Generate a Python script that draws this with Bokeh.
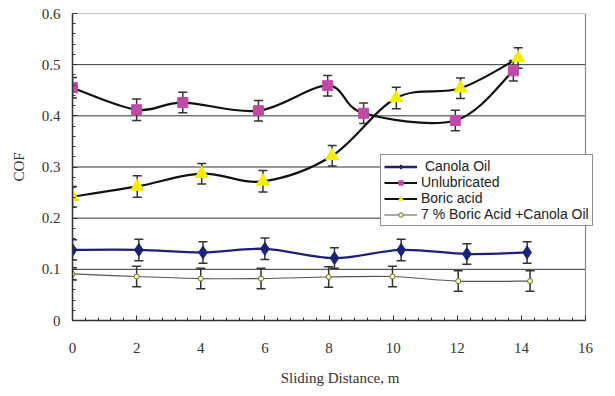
from bokeh.plotting import figure
from bokeh.models import (ColumnDataSource, Whisker, TeeHead, FixedTicker, Legend, LegendItem,
                          Range1d)
from bokeh.embed import file_html
from bokeh.resources import INLINE

# ---------------- data ----------------
canola_x = [0, 2.07, 4.07, 6.0, 8.17, 10.25, 12.3, 14.18]
canola_y = [0.138, 0.138, 0.133, 0.140, 0.122, 0.138, 0.130, 0.133]
canola_err = [0.02, 0.021, 0.021, 0.021, 0.02, 0.021, 0.02, 0.021]

unlub_x = [0, 2.0, 3.44, 5.8, 7.96, 9.08, 11.94, 13.75]
unlub_y = [0.455, 0.412, 0.426, 0.410, 0.459, 0.405, 0.391, 0.488]
unlub_err = [0.02, 0.021, 0.02, 0.02, 0.02, 0.02, 0.02, 0.02]

boric_x = [0, 2.02, 4.03, 5.94, 8.1, 10.1, 12.1, 13.9]
boric_y = [0.242, 0.262, 0.287, 0.272, 0.322, 0.435, 0.454, 0.513]
boric_err = [0.02, 0.021, 0.02, 0.021, 0.02, 0.021, 0.02, 0.02]

mix_x = [0, 2.0, 4.0, 5.88, 7.99, 9.98, 12.03, 14.27]
mix_y = [0.091, 0.086, 0.082, 0.082, 0.085, 0.086, 0.077, 0.077]
mix_err = [0.012, 0.02, 0.02, 0.02, 0.02, 0.02, 0.02, 0.02]

x_ticks = [0, 2, 4, 6, 8, 10, 12, 14, 16]
y_ticks = [0, 0.1, 0.2, 0.3, 0.4, 0.5, 0.6]
y_labels = ["0", "0.1", "0.2", "0.3", "0.4", "0.5", "0.6"]
names = ["Canola Oil", "Unlubricated", "Boric acid", "7 % Boric Acid +Canola Oil"]

SERIF = "Liberation Serif"
SANS = "Liberation Sans"

X_MAX = 16
# the frame runs past x=16 so that the legend can overhang the plot box, as in the original
X_VIEW = X_MAX * 535 / 513

p = figure(width=607, height=388, output_backend="svg", toolbar_location=None,
           x_range=Range1d(0, X_VIEW), y_range=Range1d(0, 0.6),
           min_border_left=72, min_border_right=0, min_border_top=13, min_border_bottom=65)
p.background_fill_color = "white"
p.border_fill_color = "white"
p.outline_line_color = None
p.xgrid.visible = False
p.ygrid.visible = False

# horizontal grid lines and plot box (ending at x = 16)
grid_y = y_ticks[1:-1]
p.segment(x0=[0] * len(grid_y), x1=[X_MAX] * len(grid_y), y0=grid_y, y1=grid_y,
          line_color="#333333", line_width=1)
p.segment(x0=[0, X_MAX], x1=[X_MAX, X_MAX], y0=[y_ticks[-1], 0], y1=[y_ticks[-1], y_ticks[-1]],
          line_color="#8a8a8a", line_width=1.2)

# axes
p.xaxis.ticker = FixedTicker(ticks=x_ticks,
                             minor_ticks=[i * 0.4 for i in range(41)])
p.xaxis.bounds = (0, X_MAX)
p.yaxis.ticker = FixedTicker(ticks=y_ticks,
                             minor_ticks=[i * 0.02 for i in range(31)])
p.yaxis.major_label_overrides = {t: l for t, l in zip(y_ticks, y_labels)}
for ax in (p.xaxis, p.yaxis):
    ax.axis_line_color = "#333333"
    ax.axis_line_width = 1.5
    ax.major_tick_line_color = "#333333"
    ax.minor_tick_line_color = "#333333"
    ax.major_tick_in = 5
    ax.major_tick_out = 0
    ax.minor_tick_in = 3
    ax.minor_tick_out = 0
    ax.major_label_text_font = SERIF
    ax.major_label_text_font_size = "15px"
    ax.major_label_text_color = "#333333"
    ax.axis_label_text_font = SERIF
    ax.axis_label_text_font_size = "15px"
    ax.axis_label_text_font_style = "normal"
    ax.axis_label_text_color = "#333333"
p.xaxis.major_label_standoff = 22
p.yaxis.major_label_standoff = 12
p.xaxis.axis_label = "Sliding Distance, m"
p.yaxis.axis_label = "COF"
p.xaxis.axis_label_standoff = 14
p.yaxis.axis_label_standoff = 12


def smooth(xs, ys):
    """Catmull-Rom style bezier segments through the points (Excel smoothed line)."""
    n = len(xs)
    d = dict(x0=[], y0=[], x1=[], y1=[], cx0=[], cy0=[], cx1=[], cy1=[])
    for i in range(n - 1):
        xp, yp = (xs[i - 1], ys[i - 1]) if i > 0 else (xs[i], ys[i])
        xn, yn = (xs[i + 2], ys[i + 2]) if i + 2 < n else (xs[i + 1], ys[i + 1])
        d["x0"].append(xs[i]); d["y0"].append(ys[i])
        d["x1"].append(xs[i + 1]); d["y1"].append(ys[i + 1])
        d["cx0"].append(xs[i] + (xs[i + 1] - xp) / 6)
        d["cy0"].append(ys[i] + (ys[i + 1] - yp) / 6)
        d["cx1"].append(xs[i + 1] - (xn - xs[i]) / 6)
        d["cy1"].append(ys[i + 1] - (yn - ys[i]) / 6)
    return ColumnDataSource(d)


series = [
    (canola_x, canola_y, canola_err, "#1c2377", 2.3, "diamond", "#1c2377", "#1c2377", 13),
    (unlub_x, unlub_y, unlub_err, "#111111", 2.2, "square", "#c04aa6", "#c04aa6", 10),
    (boric_x, boric_y, boric_err, "#111111", 2.2, "triangle", "#f2ee00", "#f2ee00", 13),
    (mix_x, mix_y, mix_err, "#555555", 1.2, "circle", "#fffbc0", "#6b6b30", 5),
]

items = []
for (xs, ys, es, lc, lw, mk, fc, oc, ms), name in zip(series, names):
    lo = [y - e for y, e in zip(ys, es)]
    hi = [y + e for y, e in zip(ys, es)]
    esrc = ColumnDataSource(dict(base=xs, lower=lo, upper=hi))
    w = Whisker(source=esrc, base="base", lower="lower", upper="upper",
                line_color="#333333", line_width=1.5,
                upper_head=TeeHead(size=9, line_color="#333333", line_width=1.5),
                lower_head=TeeHead(size=9, line_color="#333333", line_width=1.5))
    p.add_layout(w)
    br = p.bezier(x0="x0", y0="y0", x1="x1", y1="y1", cx0="cx0", cy0="cy0",
                  cx1="cx1", cy1="cy1", source=smooth(xs, ys),
                  line_color=lc, line_width=lw)
    sr = p.scatter(xs, ys, marker=mk, size=ms, fill_color=fc, line_color=oc,
                   line_width=1)
    items.append(LegendItem(label=name if name != "Canola Oil" else " Canola Oil",
                            renderers=[br, sr]))

legend = Legend(items=items, location=(308, 94),
                border_line_color="#222222", border_line_width=1.2,
                background_fill_color="white", background_fill_alpha=1,
                label_text_font=SANS, label_text_font_size="14px",
                label_text_color="#222222",
                label_height=11, glyph_height=11, glyph_width=33,
                label_standoff=4, spacing=0, padding=3, margin=0)
p.add_layout(legend)

open("out.html", "w").write(file_html(p, INLINE))
